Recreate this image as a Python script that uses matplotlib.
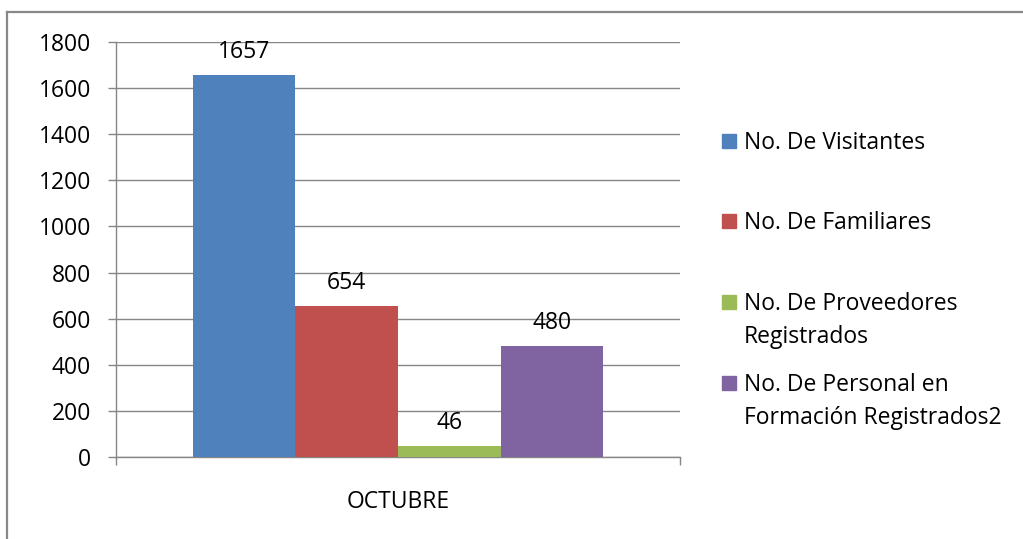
import matplotlib.pyplot as plt
from matplotlib.lines import Line2D
from matplotlib.patches import Rectangle

category = "OCTUBRE"
series = ["No. De Visitantes", "No. De Familiares",
          "No. De Proveedores\nRegistrados",
          "No. De Personal en\nFormación Registrados2"]
values = [1657, 654, 46, 480]
colors = ["#4F81BD", "#C0504D", "#9BBB59", "#8064A2"]
yticks = [0, 200, 400, 600, 800, 1000, 1200, 1400, 1600, 1800]

plt.rcParams['font.family'] = ['Open Sans', 'DejaVu Sans']
fs = 16.5

W, H = 1023, 539
fig = plt.figure(figsize=(W / 100, H / 100), dpi=100)
ax = fig.add_axes([116 / W, 1 - 457 / H, (680 - 116) / W, (457 - 42) / H])

grid_c = "#868686"
width = 0.7275 / len(values)
for i, (v, c) in enumerate(zip(values, colors)):
    x = -width * len(values) / 2 + width * (i + 0.5)
    bars = ax.bar(x, v, width=width, color=c, zorder=3)
    ax.bar_label(bars, labels=[str(v)], padding=8, fontsize=fs)

ax.set_xlim(-0.5, 0.5)
ax.set_ylim(0, 1800)
ax.set_yticks(yticks)
ax.set_yticklabels([str(t) for t in yticks], fontsize=fs)
ax.yaxis.grid(True, color=grid_c, linewidth=1.0, zorder=0)
ax.tick_params(axis='y', length=6, width=1.0, color=grid_c, pad=12)

ax.set_xticks([0])
ax.set_xticklabels([category], fontsize=fs)
ax.set_xticks([-0.5, 0.5], minor=True)
ax.tick_params(axis='x', which='major', length=0, pad=24)
ax.tick_params(axis='x', which='minor', length=6, width=1.0, color=grid_c)

for s in ['top', 'right']:
    ax.spines[s].set_visible(False)
for s in ['left', 'bottom']:
    ax.spines[s].set_color(grid_c)
    ax.spines[s].set_linewidth(1.0)

# legend drawn by hand to match the layout
leg_y = [141, 221, 302, 383]
for name, c, y in zip(series, colors, leg_y):
    fig.add_artist(Rectangle((722 / W, 1 - (y + 7) / H), 14 / W, 14 / H,
                             transform=fig.transFigure, color=c))
    fig.text(744 / W, 1 - (y - 10) / H, name, fontsize=fs, va='top',
             ha='left', linespacing=1.5)

# outer chart frame (top and left edges visible)
fig.add_artist(Line2D([7 / W, 1], [1 - 12 / H, 1 - 12 / H],
                      transform=fig.transFigure, color="#888888", linewidth=1.6))
fig.add_artist(Line2D([7 / W, 7 / W], [1 - 12 / H, 0],
                      transform=fig.transFigure, color="#888888", linewidth=1.6))

fig.savefig("out.png", dpi=100)
